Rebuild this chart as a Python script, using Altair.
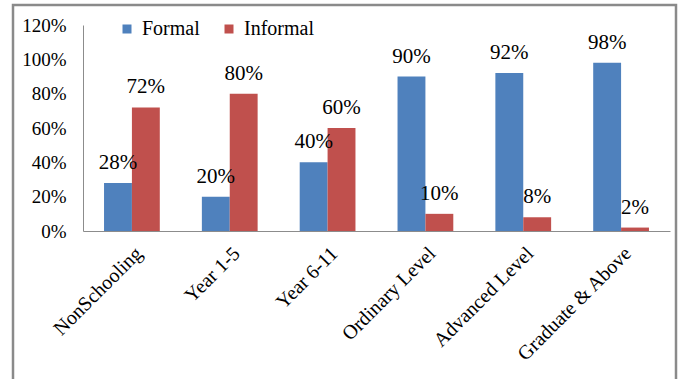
import altair as alt
import pandas as pd

categories = ["NonSchooling", "Year 1-5", "Year 6-11", "Ordinary Level",
              "Advanced Level", "Graduate & Above"]
formal = [0.28, 0.20, 0.40, 0.90, 0.92, 0.98]
informal = [0.72, 0.80, 0.60, 0.10, 0.08, 0.02]
series = ["Formal", "Informal"]
colors = ["#4F81BD", "#C0504D"]
y_ticks = [0, 0.2, 0.4, 0.6, 0.8, 1.0, 1.2]

rows = []
for c, f, i in zip(categories, formal, informal):
    rows.append({"Category": c, "Type": "Formal", "Value": f})
    rows.append({"Category": c, "Type": "Informal", "Value": i})
df = pd.DataFrame(rows)

FONT = "Liberation Serif"

x_enc = alt.X("Category:N", sort=categories, title=None,
              scale=alt.Scale(paddingInner=0.43, paddingOuter=0.215),
              axis=alt.Axis(labelAngle=-45, labelFontSize=20, labelFont=FONT,
                            labelColor="black", ticks=False, labelPadding=12,
                            domainColor="#8c8c8c", labelLimit=300,
                            labelOverlap=False))
y_enc = alt.Y("Value:Q", title=None,
              scale=alt.Scale(domain=[0, 1.2], nice=False),
              axis=alt.Axis(values=y_ticks, format=".0%",
                            labelFontSize=19, labelFont=FONT, labelColor="black",
                            ticks=False, grid=False, labelPadding=17,
                            labelOverlap=False, labelFlush=False,
                            domainColor="#8c8c8c"))
offset = alt.XOffset("Type:N", sort=series)

base = alt.Chart(df)

bars = base.mark_bar().encode(
    x=x_enc, y=y_enc, xOffset=offset,
    color=alt.Color("Type:N", sort=series,
                    scale=alt.Scale(domain=series, range=colors),
                    legend=alt.Legend(title=None, orient="none", legendX=34, legendY=-6,
                                      direction="horizontal", symbolType="square",
                                      symbolSize=81, symbolStrokeWidth=0,
                                      labelFontSize=20, labelFont=FONT,
                                      labelColor="black", labelOffset=5,
                                      columnPadding=19)),
)

labels = base.mark_text(font=FONT, fontSize=21, color="black",
                        baseline="alphabetic", dy=-14).encode(
    x=x_enc,
    y=y_enc,
    xOffset=offset,
    text=alt.Text("Value:Q", format=".0%"),
)

frame = alt.Chart(pd.DataFrame({"k": [0]})).mark_rect(
    fill=None, stroke="#8a8a8a", strokeWidth=2.5
).encode(x=alt.value(-70), x2=alt.value(593), y=alt.value(-20), y2=alt.value(420))

chart = alt.layer(bars, labels, frame).properties(
    width=587, height=206,
    autosize=alt.AutoSizeParams(type="none"),
    padding={"left": 83, "top": 25, "right": 13, "bottom": 148},
    background="white",
).configure_view(stroke=None)

chart.save("out.html", embed_options={"renderer": "svg", "actions": False})
